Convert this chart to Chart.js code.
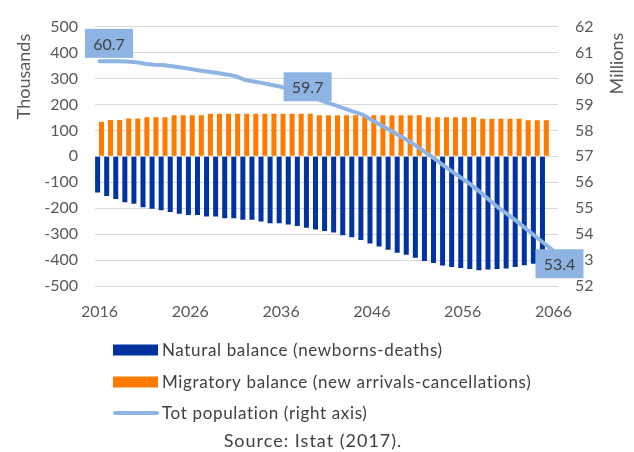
<!DOCTYPE html>
<html>
<head>
<meta charset="utf-8">
<script src="https://cdn.jsdelivr.net/npm/chart.js@4.4.0/dist/chart.umd.min.js"></script>
<style>
    html, body { margin: 0; padding: 0; background: #fff; }
</style>
</head>
<body>
<canvas id="popChart" width="634" height="452"></canvas>
<script>
// 数据
const years = ['2016', '2017', '2018', '2019', '2020', '2021', '2022', '2023', '2024', '2025',
    '2026', '2027', '2028', '2029', '2030', '2031', '2032', '2033', '2034', '2035',
    '2036', '2037', '2038', '2039', '2040', '2041', '2042', '2043', '2044', '2045',
    '2046', '2047', '2048', '2049', '2050', '2051', '2052', '2053', '2054', '2055',
    '2056', '2057', '2058', '2059', '2060', '2061', '2062', '2063', '2064', '2065', '2066'];
const yearTickLabels = ['2016', '2026', '2036', '2046', '2056', '2066'];

// 自然差额 (千人)
const naturalBalance = [-140, -153, -165, -177, -183, -196, -202, -208, -215, -221,
    -226, -226, -232, -232, -239, -239, -245, -245, -251, -258,
    -258, -263, -269, -275, -282, -288, -294, -304, -312, -323,
    -336, -348, -360, -372, -380, -391, -404, -411, -421, -427,
    -431, -434, -439, -436, -434, -433, -427, -420, -414, -408, null];

// 迁移差额 (千人)
const migratoryBalance = [133, 140, 140, 146, 146, 151, 151, 151, 158, 158,
    158, 158, 164, 164, 164, 164, 164, 164, 164, 164,
    164, 164, 164, 164, 158, 158, 158, 158, 158, 158,
    158, 158, 158, 158, 158, 158, 151, 151, 151, 151,
    151, 151, 145, 145, 145, 145, 145, 139, 139, 139, null];

// 总人口 (百万)
const totPopulation = [60.66, 60.66, 60.66, 60.65, 60.63, 60.57, 60.53, 60.52, 60.47, 60.42,
    60.37, 60.31, 60.26, 60.21, 60.15, 60.09, 59.95, 59.88, 59.82, 59.75,
    59.68, 59.56, 59.44, 59.32, 59.20, 59.08, 58.96, 58.84, 58.72, 58.60,
    58.40, 58.20, 58.00, 57.80, 57.60, 57.37, 57.13, 56.88, 56.62, 56.37,
    56.13, 55.88, 55.60, 55.30, 55.00, 54.75, 54.48, 54.20, 53.92, 53.64, 53.36];

const thousandsTicks = [-500, -400, -300, -200, -100, 0, 100, 200, 300, 400, 500];
const millionsTicks = [52, 53, 54, 55, 56, 57, 58, 59, 60, 61, 62];

// 标注的点
const popLabelIdx = [0, 20, 50];
const popLabelOffsets = [[9.5, -18], [26.5, 0], [6, 13]];

const textColor = '#595959';
const darkText = '#404040';
const fontFamily = 'Lato, "Open Sans", sans-serif';

// 额外绘制: 轴标题、数据标签、图例、来源
const overlayPlugin = {
    id: 'overlay',
    afterDatasetsDraw(chart) {
        const ctx = chart.ctx;
        const meta = chart.getDatasetMeta(2);
        ctx.save();
        ctx.font = '16px ' + fontFamily;
        ctx.textAlign = 'center';
        ctx.textBaseline = 'middle';
        popLabelIdx.forEach((idx, k) => {
            const pt = meta.data[idx];
            const cx = pt.x + popLabelOffsets[k][0];
            const cy = pt.y + popLabelOffsets[k][1];
            ctx.fillStyle = '#8db4e2';
            ctx.fillRect(cx - 24, cy - 14.5, 48, 29);
            ctx.fillStyle = darkText;
            ctx.fillText(totPopulation[idx].toFixed(1), cx, cy + 1);
        });
        ctx.restore();
    },
    afterDraw(chart) {
        const ctx = chart.ctx;
        ctx.save();
        ctx.fillStyle = textColor;
        ctx.font = '18px ' + fontFamily;
        ctx.textAlign = 'center';
        ctx.textBaseline = 'middle';
        ctx.translate(24.5, 76.5);
        ctx.rotate(-Math.PI / 2);
        ctx.fillText('Thousands', 0, 0);
        ctx.restore();

        ctx.save();
        ctx.fillStyle = textColor;
        ctx.font = '18px ' + fontFamily;
        ctx.textAlign = 'center';
        ctx.textBaseline = 'middle';
        ctx.translate(617, 63.5);
        ctx.rotate(-Math.PI / 2);
        ctx.fillText('Millions', 0, 0);
        ctx.restore();

        // 图例
        const ds = chart.data.datasets;
        const rows = [350, 382, 413];
        ctx.save();
        ctx.font = '17px ' + fontFamily;
        ctx.letterSpacing = '0.65px';
        ctx.textAlign = 'left';
        ctx.textBaseline = 'middle';
        ds.forEach((d, i) => {
            const y = rows[i];
            if (d.type === 'line') {
                ctx.strokeStyle = d.borderColor;
                ctx.lineWidth = 4;
                ctx.lineCap = 'round';
                ctx.beginPath();
                ctx.moveTo(115, y);
                ctx.lineTo(157, y);
                ctx.stroke();
            } else {
                ctx.fillStyle = d.backgroundColor;
                ctx.fillRect(113, y - 5.5, 45, 11);
            }
            ctx.fillStyle = darkText;
            ctx.fillText(d.label, 162, y + 1);
        });
        ctx.font = '18px ' + fontFamily;
        ctx.letterSpacing = '1px';
        ctx.textAlign = 'center';
        ctx.fillText('Source: Istat (2017).', 313, 441);
        ctx.restore();
    }
};

const ctx = document.getElementById('popChart');
const popChart = new Chart(ctx.getContext('2d'), {
    data: {
        labels: years,
        datasets: [{
            type: 'bar',
            label: 'Natural balance (newborns-deaths)',
            data: naturalBalance,
            backgroundColor: '#0033a0',
            categoryPercentage: 0.85,
            barPercentage: 1.3,
            yAxisID: 'y',
            order: 2
        }, {
            type: 'bar',
            label: 'Migratory balance (new arrivals-cancellations)',
            data: migratoryBalance,
            backgroundColor: '#ff7b00',
            categoryPercentage: 0.85,
            barPercentage: 1.3,
            yAxisID: 'y',
            order: 2
        }, {
            type: 'line',
            label: 'Tot population (right axis)',
            data: totPopulation,
            borderColor: '#8db4e2',
            borderWidth: 4,
            borderCapStyle: 'round',
            pointRadius: 0,
            tension: 0,
            yAxisID: 'y1',
            order: 0
        }]
    },
    options: {
        responsive: false,
        animation: false,
        devicePixelRatio: 1,
        layout: { padding: { top: 22, left: 0, right: 0, bottom: 0 } },
        plugins: {
            legend: { display: false },
            tooltip: { enabled: false }
        },
        scales: {
            x: {
                type: 'category',
                offset: true,
                grid: { display: false },
                border: { display: false },
                ticks: {
                    autoSkip: false,
                    maxRotation: 0,
                    padding: 8,
                    color: textColor,
                    font: { family: fontFamily, size: 16 },
                    callback: function (v) {
                        const lab = this.getLabelForValue(v);
                        return yearTickLabels.includes(lab) ? lab : '';
                    }
                },
                afterFit: s => { s.height = 452 - 286; }
            },
            y: {
                position: 'left',
                min: thousandsTicks[0],
                max: thousandsTicks[thousandsTicks.length - 1],
                grid: { color: '#d9d9d9', lineWidth: 1, drawTicks: false },
                border: { display: false },
                ticks: {
                    stepSize: 100,
                    padding: 17,
                    color: textColor,
                    font: { family: fontFamily, size: 16 }
                },
                afterFit: s => { s.width = 95; }
            },
            y1: {
                position: 'right',
                min: millionsTicks[0],
                max: millionsTicks[millionsTicks.length - 1],
                grid: { display: false, drawTicks: false },
                border: { display: false },
                ticks: {
                    stepSize: 1,
                    padding: 17,
                    color: textColor,
                    font: { family: fontFamily, size: 16 }
                },
                afterFit: s => { s.width = 634 - 558; }
            }
        }
    },
    plugins: [overlayPlugin]
});
</script>
</body>
</html>
